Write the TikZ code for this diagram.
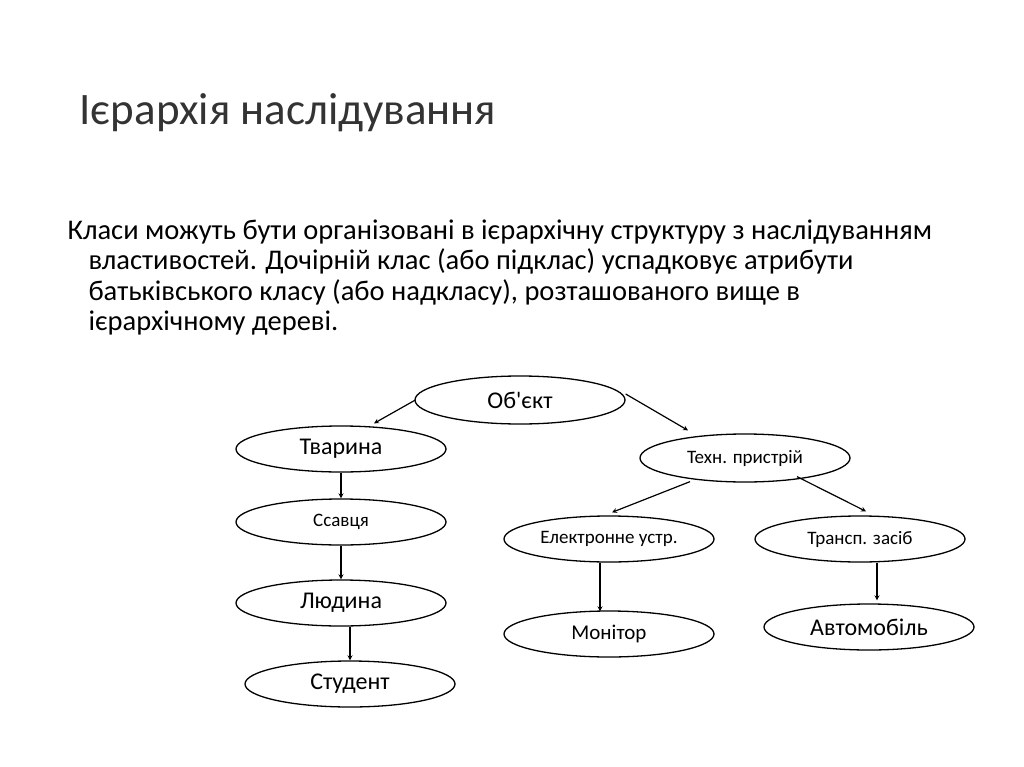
\documentclass[tikz,border=0pt]{standalone}
\usepackage{fontspec}
\setmainfont{Carlito}
\usetikzlibrary{shapes.geometric,calc}
\begin{document}
\begin{tikzpicture}[x=1pt,y=-1pt,
 el/.style={draw,ellipse,line width=1.3pt,minimum width=210pt,minimum height=46pt,inner sep=0pt},
 big/.style={font=\fontsize{24}{28}\selectfont},
 sml/.style={font=\fontsize{19}{23}\selectfont},
 arr/.style={->,line width=1.2pt,>=stealth}]
\useasboundingbox (0,0) rectangle (1024,767);
\node[anchor=west,font=\fontsize{45}{52}\selectfont,text=black!80] (title) at (76,113) {Ієрархія наслідування};
\node[anchor=north west,align=left,font=\fontsize{28.5}{30.5}\selectfont] (body) at (64,216) {Класи можуть бути організовані в ієрархічну структуру з наслідуванням\\
\hspace*{21pt}властивостей. Дочірній клас (або підклас) успадковує атрибути\\
\hspace*{21pt}батьківського класу (або надкласу), розташованого вище в\\
\hspace*{21pt}ієрархічному дереві.};
\node[el,big,minimum height=48pt] (obj) at (520,400) {Об\textquotesingle єкт};
\node[el,big] (tv) at (341,449) {Тварина};
\node[el,sml,minimum height=48pt] (teh) at (745,458) {Техн. пристрій};
\node[el,sml] (ss) at (341,522) {Ссавця};
\node[el,sml] (el) at (609,539) {Електронне устр.};
\node[el,sml] (tr) at (860,539) {Трансп. засіб};
\node[el,big] (lu) at (341,603) {Людина};
\node[el,font=\fontsize{21}{25}\selectfont] (mon) at (609,634) {Монітор};
\node[el,big] (avt) at (869,627) {Автомобіль};
\node[el,big] (st) at (350,684) {Студент};
\draw[arr] ($(obj.west)+(1,0)$) -- ($(tv.north)+(33,-2)$);
\draw[arr] ($(obj.east)+(0,-6)$) -- ($(teh.north)+(-57,-3)$);
\draw[arr] ($(teh.south)+(-55,-1)$) -- ($(el.north)+(3,-3)$);
\draw[arr] ($(teh.south)+(52,-6)$) -- ($(tr.north)+(6,-4)$);
\draw[arr] (tv.south) -- (ss.north);
\draw[arr] (ss.south) -- (lu.north);
\draw[arr] ($(lu.south)+(9,0)$) -- ($(st.north)+(0,0)$);
\draw[arr] ($(el.south)+(-9,0)$) -- ($(mon.north)+(-9,1)$);
\draw[arr] ($(tr.south)+(17,0)$) -- ($(avt.north)+(8,-3)$);
\end{tikzpicture}
\end{document}
